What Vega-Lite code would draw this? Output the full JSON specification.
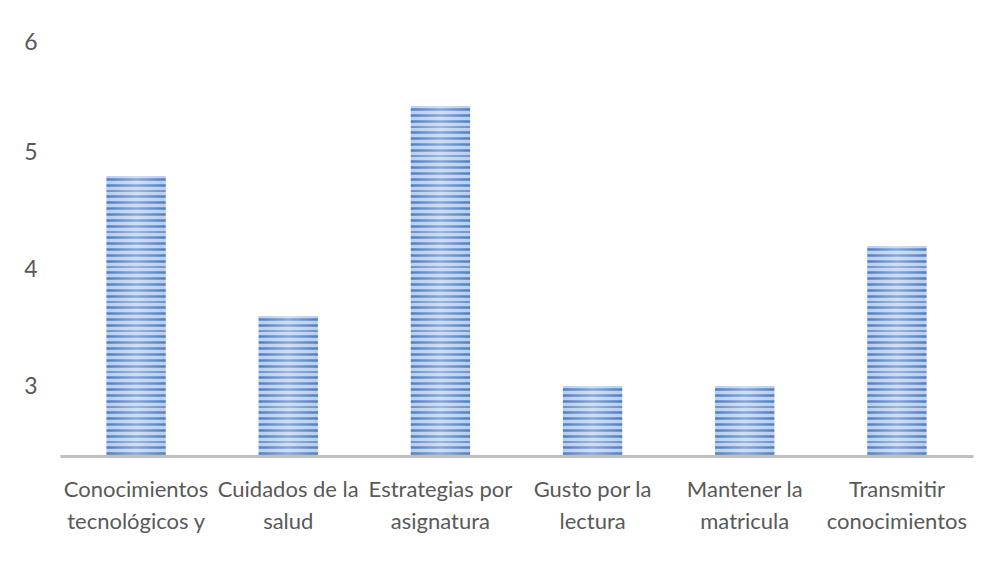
{
  "$schema": "https://vega.github.io/schema/vega-lite/v6.json",
  "width": 913,
  "height": 420,
  "autosize": {"type": "none"},
  "padding": {"left": 60, "top": 36, "right": 19, "bottom": 118},
  "background": "white",
  "config": {
    "view": {"stroke": null},
    "font": "Lato",
    "axis": {"labelFont": "Lato", "labelColor": "#595959", "labelFontSize": 22}
  },
  "data": {
    "values": [
      {"categoria": "Conocimientos|tecnológicos y", "valor": 4.8},
      {"categoria": "Cuidados de la|salud", "valor": 3.6},
      {"categoria": "Estrategias por|asignatura", "valor": 5.4},
      {"categoria": "Gusto por la|lectura", "valor": 3.0},
      {"categoria": "Mantener la|matricula", "valor": 3.0},
      {"categoria": "Transmitir|conocimientos", "valor": 4.2}
    ]
  },
  "encoding": {
    "x": {
      "field": "categoria",
      "type": "nominal",
      "sort": null,
      "scale": {"paddingInner": 0.61, "paddingOuter": 0.305},
      "axis": {
        "title": null,
        "labelAngle": 0,
        "labelExpr": "split(datum.label, '|')",
        "labelLineHeight": 32,
        "labelPadding": 23,
        "labelBaseline": "top",
        "ticks": false,
        "domainColor": "#bfbfbf",
        "domainWidth": 3,
        "labelLimit": 0,
        "zindex": 2
      }
    },
    "y": {
      "field": "valor",
      "type": "quantitative",
      "scale": {"domain": [2.4, 6], "nice": false, "zero": false}
    },
    "y2": {"datum": 2.4}
  },
  "layer": [
    {
      "mark": {
        "type": "bar",
        "fill": {
          "gradient": "linear",
          "x1": 0, "y1": 0, "x2": 1, "y2": 0,
          "stops": [
            {"offset": 0, "color": "#4d7ec6"},
            {"offset": 0.5, "color": "#86a9de"},
            {"offset": 1, "color": "#4d7ec6"}
          ]
        }
      },
      "encoding": {
        "y": {
          "field": "valor",
          "type": "quantitative",
          "axis": {
            "orient": "left",
            "title": null,
            "values": [3, 4, 5, 6],
            "grid": false,
            "domain": false,
            "ticks": false,
            "labelPadding": 23,
            "labelFontSize": 23,
            "labelOffset": {"condition": {"test": "datum.value == 6", "value": 6}, "value": 0}
          }
        }
      }
    },
    {
      "mark": {"type": "bar", "opacity": 0},
      "encoding": {
        "y": {
          "field": "valor",
          "type": "quantitative",
          "axis": {
            "orient": "right",
            "title": null,
            "tickCount": 72,
            "labels": false,
            "ticks": false,
            "domain": false,
            "grid": true,
            "gridColor": "white",
            "gridWidth": 3.5,
            "gridOpacity": 0.62,
            "zindex": 1
          }
        }
      }
    }
  ],
  "resolve": {"axis": {"y": "independent"}}
}
